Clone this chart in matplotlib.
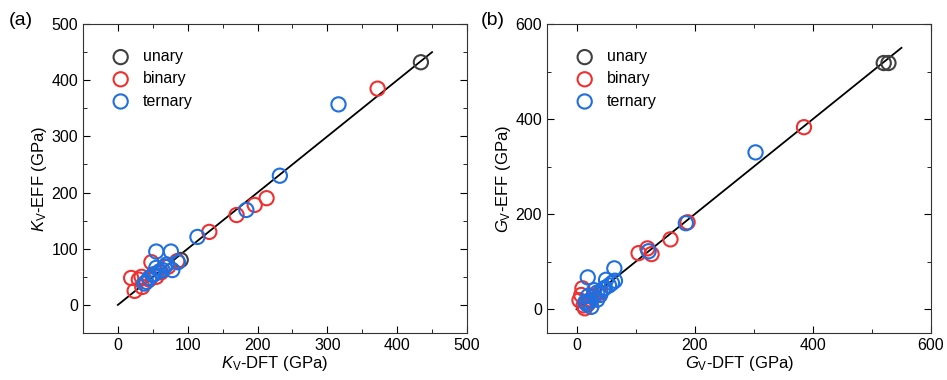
import matplotlib
matplotlib.use('Agg')
import matplotlib.pyplot as plt
from matplotlib.ticker import MultipleLocator

plt.rcParams['font.family'] = ['Liberation Sans', 'DejaVu Sans']
plt.rcParams['mathtext.fontset'] = 'custom'
plt.rcParams['mathtext.rm'] = 'Liberation Sans'
plt.rcParams['mathtext.it'] = 'Liberation Sans:italic'

# bulk modulus (a)
unary_k_dft = [434, 90]
unary_k_eff = [432, 80]
binary_k_dft = [372, 213, 196, 170, 131, 48, 19, 24, 34, 35, 45, 55, 62, 72, 30, 85]
binary_k_eff = [385, 190, 178, 160, 130, 76, 48, 25, 50, 32, 45, 50, 58, 68, 45, 78]
ternary_k_dft = [316, 232, 184, 114, 55, 76, 55, 67, 78, 86, 50, 41, 45, 60, 70, 38, 52, 64]
ternary_k_eff = [357, 230, 169, 121, 95, 95, 66, 68, 62, 76, 53, 41, 48, 60, 72, 38, 55, 62]

# shear modulus (b)
unary_g_dft = [520, 528]
unary_g_eff = [518, 518]
binary_g_dft = [385, 188, 159, 120, 127, 105, 10, 5, 14, 8, 20, 25, 30, 40, 12]
binary_g_eff = [383, 183, 147, 128, 116, 118, 44, 19, 2, 30, 12, 20, 28, 35, 8]
ternary_g_dft = [303, 185, 122, 64, 19, 50, 65, 55, 45, 35, 28, 22, 18, 25, 15, 40, 60, 30, 48, 20, 35]
ternary_g_eff = [330, 181, 122, 86, 67, 62, 60, 50, 42, 35, 25, 18, 10, 5, 15, 30, 55, 40, 45, 28, 20]

colors = {'unary': '#404040', 'binary': '#f03030', 'ternary': '#1f6fe0'}

fig = plt.figure(figsize=(9.47, 3.80), dpi=100)
ax1 = fig.add_axes([0.0876, 0.1237, 0.4055, 0.813])
ax2 = fig.add_axes([0.5776, 0.1237, 0.4055, 0.813])

def draw(ax, groups, lim, line_end, major, minor, xlab, ylab):
    ax.plot([0, line_end], [0, line_end], color='black', lw=1.3, zorder=1)
    for name, (xs, ys) in groups.items():
        ax.scatter(xs, ys, s=105, facecolors='none', edgecolors=colors[name],
                   linewidths=1.5, label=name, zorder=2)
    ax.set_xlim(lim)
    ax.set_ylim(lim)
    ax.xaxis.set_major_locator(MultipleLocator(major))
    ax.yaxis.set_major_locator(MultipleLocator(major))
    ax.xaxis.set_minor_locator(MultipleLocator(minor))
    ax.yaxis.set_minor_locator(MultipleLocator(minor))
    ax.tick_params(which='both', direction='in', top=True, right=True, labelsize=11.5)
    ax.tick_params(which='major', length=5)
    ax.tick_params(which='minor', length=3)
    for sp in ax.spines.values():
        sp.set_color('#333333')
    ax.set_xlabel(xlab, fontsize=12, labelpad=1)
    ax.set_ylabel(ylab, fontsize=12, labelpad=2)
    ax.legend(loc='upper left', frameon=False, fontsize=11.5, handletextpad=0.4,
              labelspacing=0.45, borderaxespad=0.6, bbox_to_anchor=(0.015, 0.97))

draw(ax1, {'unary': (unary_k_dft, unary_k_eff),
           'binary': (binary_k_dft, binary_k_eff),
           'ternary': (ternary_k_dft, ternary_k_eff)},
     (-50, 500), 450, 100, 50,
     r'$K_{\rm V}$-DFT (GPa)', r'$K_{\rm V}$-EFF (GPa)')
draw(ax2, {'unary': (unary_g_dft, unary_g_eff),
           'binary': (binary_g_dft, binary_g_eff),
           'ternary': (ternary_g_dft, ternary_g_eff)},
     (-50, 600), 550, 200, 100,
     r'$G_{\rm V}$-DFT (GPa)', r'$G_{\rm V}$-EFF (GPa)')

fig.text(0.009, 0.935, '(a)', fontsize=14)
fig.text(0.508, 0.935, '(b)', fontsize=14)

fig.savefig('out.png', dpi=100)
